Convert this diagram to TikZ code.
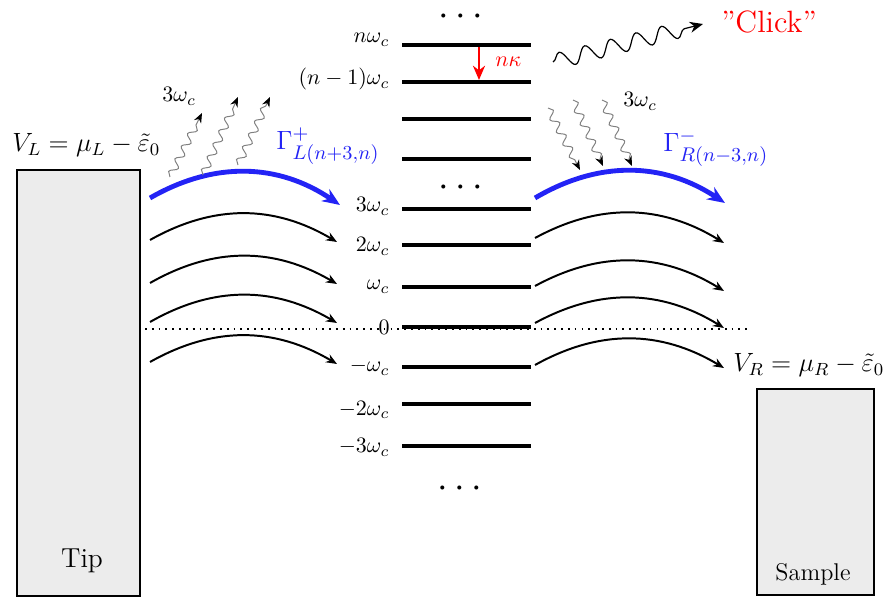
\documentclass[tikz,border=0pt]{standalone}
\usepackage{amsmath}
\usetikzlibrary{arrows.meta,decorations.pathmorphing,calc}
\definecolor{gblue}{RGB}{35,35,245}
\definecolor{boxgray}{RGB}{236,236,236}
\begin{document}
\begin{tikzpicture}[x=0.4545pt,y=-0.4545pt,
  level/.style={line width=1.9pt},
  lvllabel/.style={anchor=base east,inner sep=0pt,font=\normalsize},
  flow/.style={line width=0.9pt,-{Stealth[length=5pt,width=4pt]}},
  bigflow/.style={line width=2.2pt,draw=gblue,-{Stealth[length=8pt,width=6.5pt]}},
  photon/.style={draw=black!50,line width=0.45pt,decorate,
    decoration={snake,amplitude=1.7pt,segment length=6.4pt,post length=3pt},
    -{Stealth[length=4.5pt,width=3.6pt,color=black]}},
  clickph/.style={draw=black,line width=0.55pt,decorate,
    decoration={snake,amplitude=3.6pt,segment length=12pt,post length=3pt},
    -{Stealth[length=6pt,width=5pt]}},
  tipbox/.style={draw=black,fill=boxgray,line width=0.8pt},
  dotsnode/.style={font=\LARGE,inner sep=0pt,anchor=base}]
\useasboundingbox (0,0) rectangle (885,597);

% electrodes
\draw[tipbox] (17,170) rectangle (140,596);
\draw[tipbox] (757,389) rectangle (874,595);
\node[anchor=base,inner sep=0pt,font=\fontsize{12.5}{14}\selectfont] (tip) at (82,567) {Tip};
\node[anchor=base,inner sep=0pt,font=\fontsize{11}{13}\selectfont] (sample) at (813,581) {Sample};
\node[anchor=base west,inner sep=0pt,font=\large] (VL) at (12,152) {$V_L=\mu_L-\tilde{\varepsilon}_0$};
\node[anchor=base west,inner sep=0pt,font=\large] (VR) at (733,372) {$V_R=\mu_R-\tilde{\varepsilon}_0$};

% dotted zero line
\coordinate (z0) at (145,329);
\coordinate (z1) at (752,329);
\draw[line width=0.8pt,dash pattern=on 0.8pt off 2.3pt] (z0) -- (z1);

% levels
\foreach \nm/\y/\dy/\lab in {a/45/-2/{$n\omega_c$},b/82/3/{$(n-1)\omega_c$},c/119/0/{},d/159/0/{},
  e/209/3/{$3\omega_c$},f/245/7/{$2\omega_c$},g/287/3/{$\omega_c$},h/327/8/{$0$},
  i/367/5/{$-\omega_c$},j/404/11/{$-2\omega_c$},k/446/7/{$-3\omega_c$}}{
  \coordinate (\nm w) at (402,\y);
  \coordinate (\nm e) at (531,\y);
  \draw[level] (\nm w) -- (\nm e);
  \node[lvllabel] (\nm lab) at ($(\nm w)+(-12,\dy)$) {\lab};
}

% dots
\node[dotsnode] (dtop) at (464,26) {$\cdots$};
\node[dotsnode] (dmid) at (464,197) {$\cdots$};
\node[dotsnode] (dbot) at (463,497) {$\cdots$};

% decay arrow
\coordinate (ka) at (479,47);
\coordinate (kb) at (479,80);
\draw[red,line width=0.9pt,-{Stealth[length=6.5pt,width=5.5pt]}] (ka) -- (kb);
\node[anchor=base west,inner sep=0pt,text=red] (nk) at (495,67) {$n\kappa$};

% click photon
\coordinate (c0) at (553,62);
\coordinate (c1) at (703,24);
\draw[clickph] (c0) -- (c1);
\node[anchor=base,inner sep=0pt,text=red,font=\fontsize{14}{16}\selectfont] (click) at (769,33) {''Click''};

% left tunnelling arcs
\coordinate (lbs) at (150,198);
\coordinate (lbe) at (340,205);
\draw[bigflow] (lbs) to[bend left=32] (lbe);
\foreach \i/\ya/\yb in {1/240/242,2/283/284,3/322/323,4/362/364}{
  \coordinate (ls\i) at (150,\ya);
  \coordinate (le\i) at (337,\yb);
  \draw[flow] (ls\i) to[bend left=30] (le\i);
}
\node[anchor=base west,inner sep=0pt,text=gblue,font=\fontsize{13}{15}\selectfont] (GL) at (276,150) {$\Gamma^{+}_{L(n+3,n)}$};

% right tunnelling arcs
\coordinate (rbs) at (535,198);
\coordinate (rbe) at (725,203);
\draw[bigflow] (rbs) to[bend left=32] (rbe);
\foreach \i/\ya/\yb in {1/238/243,2/286/291,3/323/328,4/365/368}{
  \coordinate (rs\i) at (535,\ya);
  \coordinate (re\i) at (724,\yb);
  \draw[flow] (rs\i) to[bend left=30] (re\i);
}
\node[anchor=base west,inner sep=0pt,text=gblue,font=\fontsize{13}{15}\selectfont] (GR) at (663,152) {$\Gamma^{-}_{R(n-3,n)}$};

% emitted photons (left)
\coordinate (p1a) at (170,177); \coordinate (p1b) at (202,113);
\coordinate (p2a) at (203,175); \coordinate (p2b) at (238,97);
\coordinate (p3a) at (238,165); \coordinate (p3b) at (270,97);
\draw[photon] (p1a) -- (p1b);
\draw[photon] (p2a) -- (p2b);
\draw[photon] (p3a) -- (p3b);
\node[anchor=base west,inner sep=0pt] (wL) at (162,102) {$3\omega_c$};

% absorbed photons (right)
\coordinate (q1a) at (548,108); \coordinate (q1b) at (580,170);
\coordinate (q2a) at (573,100); \coordinate (q2b) at (603,166);
\coordinate (q3a) at (602,100); \coordinate (q3b) at (632,166);
\draw[photon] (q1a) -- (q1b);
\draw[photon] (q2a) -- (q2b);
\draw[photon] (q3a) -- (q3b);
\node[anchor=base west,inner sep=0pt] (wR) at (623,107) {$3\omega_c$};
\end{tikzpicture}
\end{document}
